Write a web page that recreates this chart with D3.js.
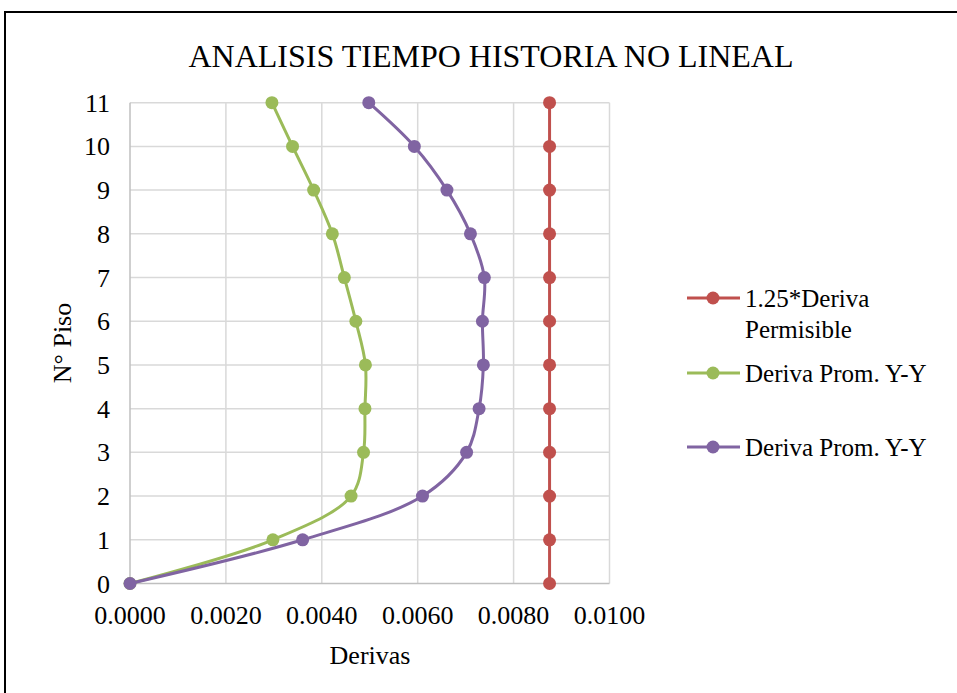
<!DOCTYPE html>
<html>
<head>
<meta charset="utf-8">
<script src="https://cdn.jsdelivr.net/npm/d3@7"></script>
<style>
  body { margin: 0; background: #fff; }
  svg { font-family: "Liberation Serif", "Times New Roman", serif; }
</style>
</head>
<body>
<svg id="chart" width="957" height="693"></svg>
<script>
// data
const pisos = [0, 1, 2, 3, 4, 5, 6, 7, 8, 9, 10, 11];
const derivaPermisible = [0.00875, 0.00875, 0.00875, 0.00875, 0.00875, 0.00875, 0.00875, 0.00875, 0.00875, 0.00875, 0.00875, 0.00875];
const derivaVerde = [0, 0.00298, 0.00461, 0.00487, 0.00490, 0.00491, 0.00471, 0.00447, 0.00422, 0.00383, 0.00339, 0.00296];
const derivaMorada = [0, 0.00360, 0.00610, 0.00702, 0.00728, 0.00737, 0.00735, 0.00739, 0.00710, 0.00661, 0.00593, 0.00498];
const xTicks = [0, 0.002, 0.004, 0.006, 0.008, 0.010];
const yTicks = [0, 1, 2, 3, 4, 5, 6, 7, 8, 9, 10, 11];

const series = [
  { name: ["1.25*Deriva", "Permisible"], values: derivaPermisible, color: "#c0504d", smooth: false },
  { name: ["Deriva Prom. Y-Y"], values: derivaVerde, color: "#9bbb59", smooth: true },
  { name: ["Deriva Prom. Y-Y"], values: derivaMorada, color: "#8064a2", smooth: true }
];

const svg = d3.select("#chart");

// outer frame
svg.append("rect")
  .attr("x", 5).attr("y", 12)
  .attr("width", 960).attr("height", 700)
  .attr("fill", "none").attr("stroke", "#000").attr("stroke-width", 2);

const x = d3.scaleLinear().domain([0, 0.01]).range([130, 609.5]);
const y = d3.scaleLinear().domain([0, 11]).range([583.5, 102.7]);

// grid
svg.append("g").selectAll("line").data(xTicks.slice(1)).join("line")
  .attr("x1", d => x(d)).attr("x2", d => x(d))
  .attr("y1", y(0)).attr("y2", y(11))
  .attr("stroke", "#d9d9d9").attr("stroke-width", 1.5);
svg.append("g").selectAll("line").data(yTicks.slice(1)).join("line")
  .attr("x1", x(0)).attr("x2", x(0.01))
  .attr("y1", d => y(d)).attr("y2", d => y(d))
  .attr("stroke", "#d9d9d9").attr("stroke-width", 1.5);

// axis lines
svg.append("line").attr("x1", x(0)).attr("x2", x(0.01)).attr("y1", y(0)).attr("y2", y(0))
  .attr("stroke", "#bfbfbf").attr("stroke-width", 1.5);
svg.append("line").attr("x1", x(0)).attr("x2", x(0)).attr("y1", y(0)).attr("y2", y(11))
  .attr("stroke", "#bfbfbf").attr("stroke-width", 1.5);

// tick labels
svg.append("g").selectAll("text").data(xTicks).join("text")
  .attr("x", d => x(d)).attr("y", 624)
  .attr("text-anchor", "middle").attr("font-size", 26)
  .text(d => d3.format(".4f")(d));
svg.append("g").selectAll("text").data(yTicks).join("text")
  .attr("x", 110).attr("y", d => y(d) + 9)
  .attr("text-anchor", "end").attr("font-size", 26)
  .text(d => d);

// titles
svg.append("text").attr("x", 491).attr("y", 67)
  .attr("text-anchor", "middle").attr("font-size", 32)
  .text("ANALISIS TIEMPO HISTORIA NO LINEAL");
svg.append("text").attr("x", 370).attr("y", 664)
  .attr("text-anchor", "middle").attr("font-size", 26)
  .text("Derivas");
svg.append("text")
  .attr("transform", "translate(71,343) rotate(-90)")
  .attr("text-anchor", "middle").attr("font-size", 26)
  .text("N° Piso");

// series
series.forEach(s => {
  const pts = pisos.map((p, i) => [s.values[i], p]);
  const line = d3.line()
    .x(d => x(d[0])).y(d => y(d[1]))
    .curve(s.smooth ? d3.curveCatmullRom.alpha(0.5) : d3.curveLinear);
  svg.append("path").datum(pts)
    .attr("d", line)
    .attr("fill", "none").attr("stroke", s.color).attr("stroke-width", 3);
  svg.append("g").selectAll("circle").data(pts).join("circle")
    .attr("cx", d => x(d[0])).attr("cy", d => y(d[1])).attr("r", 6.5)
    .attr("fill", s.color);
});

// legend
const legendY = [298, 373, 447];
series.forEach((s, i) => {
  const g = svg.append("g").attr("transform", `translate(0,${legendY[i]})`);
  g.append("line").attr("x1", 687).attr("x2", 740).attr("y1", 0).attr("y2", 0)
    .attr("stroke", s.color).attr("stroke-width", 3);
  g.append("circle").attr("cx", 713).attr("cy", 0).attr("r", 6.5).attr("fill", s.color);
  s.name.forEach((t, j) => {
    g.append("text").attr("x", 745).attr("y", 9 + j * 31)
      .attr("font-size", 25).text(t);
  });
});
</script>
</body>
</html>
